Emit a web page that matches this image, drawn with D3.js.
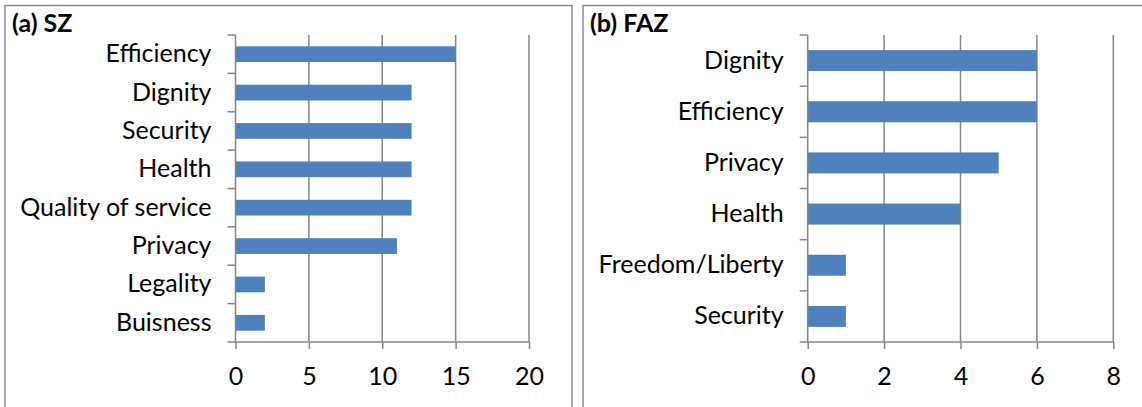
<!DOCTYPE html>
<html>
<head>
<meta charset="utf-8">
<script src="https://cdn.jsdelivr.net/npm/d3@7"></script>
<style>
  body { margin: 0; background: #fff; }
  svg { display: block; }
  text { font-family: Lato, "Open Sans", sans-serif; fill: #000; }
</style>
</head>
<body>
<div id="chart"></div>
<script>
// panel (a) SZ
const szCategories = ["Efficiency", "Dignity", "Security", "Health", "Quality of service", "Privacy", "Legality", "Buisness"];
const szValues = [15, 12, 12, 12, 12, 11, 2, 2];
const szTicks = [0, 5, 10, 15, 20];

// panel (b) FAZ
const fazCategories = ["Dignity", "Efficiency", "Privacy", "Health", "Freedom/Liberty", "Security"];
const fazValues = [6, 6, 5, 4, 1, 1];
const fazTicks = [0, 2, 4, 6, 8];

const width = 1142, height = 407;
const gridColor = "#878787";
const barColor = "#4f81bd";

const svg = d3.select("#chart")
    .append("svg")
    .attr("width", width)
    .attr("height", height);

function panel(opts) {
    const g = svg.append("g");

    // outer frame (runs past the bottom edge of the picture)
    g.append("rect")
        .attr("x", opts.frame[0])
        .attr("y", 5.5)
        .attr("width", opts.frame[1] - opts.frame[0])
        .attr("height", 420)
        .attr("fill", "none")
        .attr("stroke", "#8c8c8c")
        .attr("stroke-width", 1.5);

    g.append("text")
        .attr("x", opts.frame[0] + 7)
        .attr("y", 32)
        .style("font-size", "25px")
        .style("font-weight", "bold")
        .text(opts.title);

    const x = d3.scaleLinear()
        .domain([0, opts.ticks[opts.ticks.length - 1]])
        .range([opts.left, opts.right]);

    const y = d3.scaleBand()
        .domain(opts.categories)
        .range([35, 342])
        .padding(0);

    // vertical gridlines
    g.append("g")
        .selectAll("line")
        .data(opts.ticks.slice(1))
        .join("line")
        .attr("x1", d => x(d))
        .attr("x2", d => x(d))
        .attr("y1", 35)
        .attr("y2", 342)
        .attr("stroke", gridColor)
        .attr("stroke-width", 1.5);

    // bars
    const bh = y.bandwidth() * 0.41;
    g.append("g")
        .selectAll("rect")
        .data(opts.values)
        .join("rect")
        .attr("x", x(0))
        .attr("y", (d, i) => y(opts.categories[i]) + (y.bandwidth() - bh) / 2)
        .attr("width", d => x(d) - x(0))
        .attr("height", bh)
        .attr("fill", barColor);

    // x axis
    const xAxis = d3.axisBottom(x)
        .tickValues(opts.ticks)
        .tickSize(7)
        .tickPadding(18);
    const gx = g.append("g")
        .attr("transform", "translate(0,342)")
        .call(xAxis);
    gx.selectAll("line, path").attr("stroke", gridColor).attr("stroke-width", 1.5);
    gx.select(".domain").attr("d", "M" + (opts.left - 8) + ",0H" + opts.right);
    gx.selectAll("text").style("font-size", "25px").attr("fill", "#000");

    // y axis: labels centred on bands, ticks between categories
    const yAxis = d3.axisLeft(y)
        .tickSize(0)
        .tickPadding(24);
    const gy = g.append("g")
        .attr("transform", "translate(" + opts.left + ",0)")
        .call(yAxis);
    gy.select(".domain").attr("d", "M0,35V342").attr("stroke", gridColor).attr("stroke-width", 1.5);
    gy.selectAll("text").style("font-size", "25px").attr("fill", "#000");

    const bounds = opts.categories.map(c => y(c));
    gy.append("g")
        .selectAll("line")
        .data(bounds)
        .join("line")
        .attr("x1", -8)
        .attr("x2", 0)
        .attr("y1", d => d)
        .attr("y2", d => d)
        .attr("stroke", gridColor)
        .attr("stroke-width", 1.5);
}

panel({
    title: "(a) SZ",
    frame: [5, 572],
    left: 235.5,
    right: 529,
    categories: szCategories,
    values: szValues,
    ticks: szTicks
});

panel({
    title: "(b) FAZ",
    frame: [583, 1160],
    left: 807.7,
    right: 1113.3,
    categories: fazCategories,
    values: fazValues,
    ticks: fazTicks
});
</script>
</body>
</html>
